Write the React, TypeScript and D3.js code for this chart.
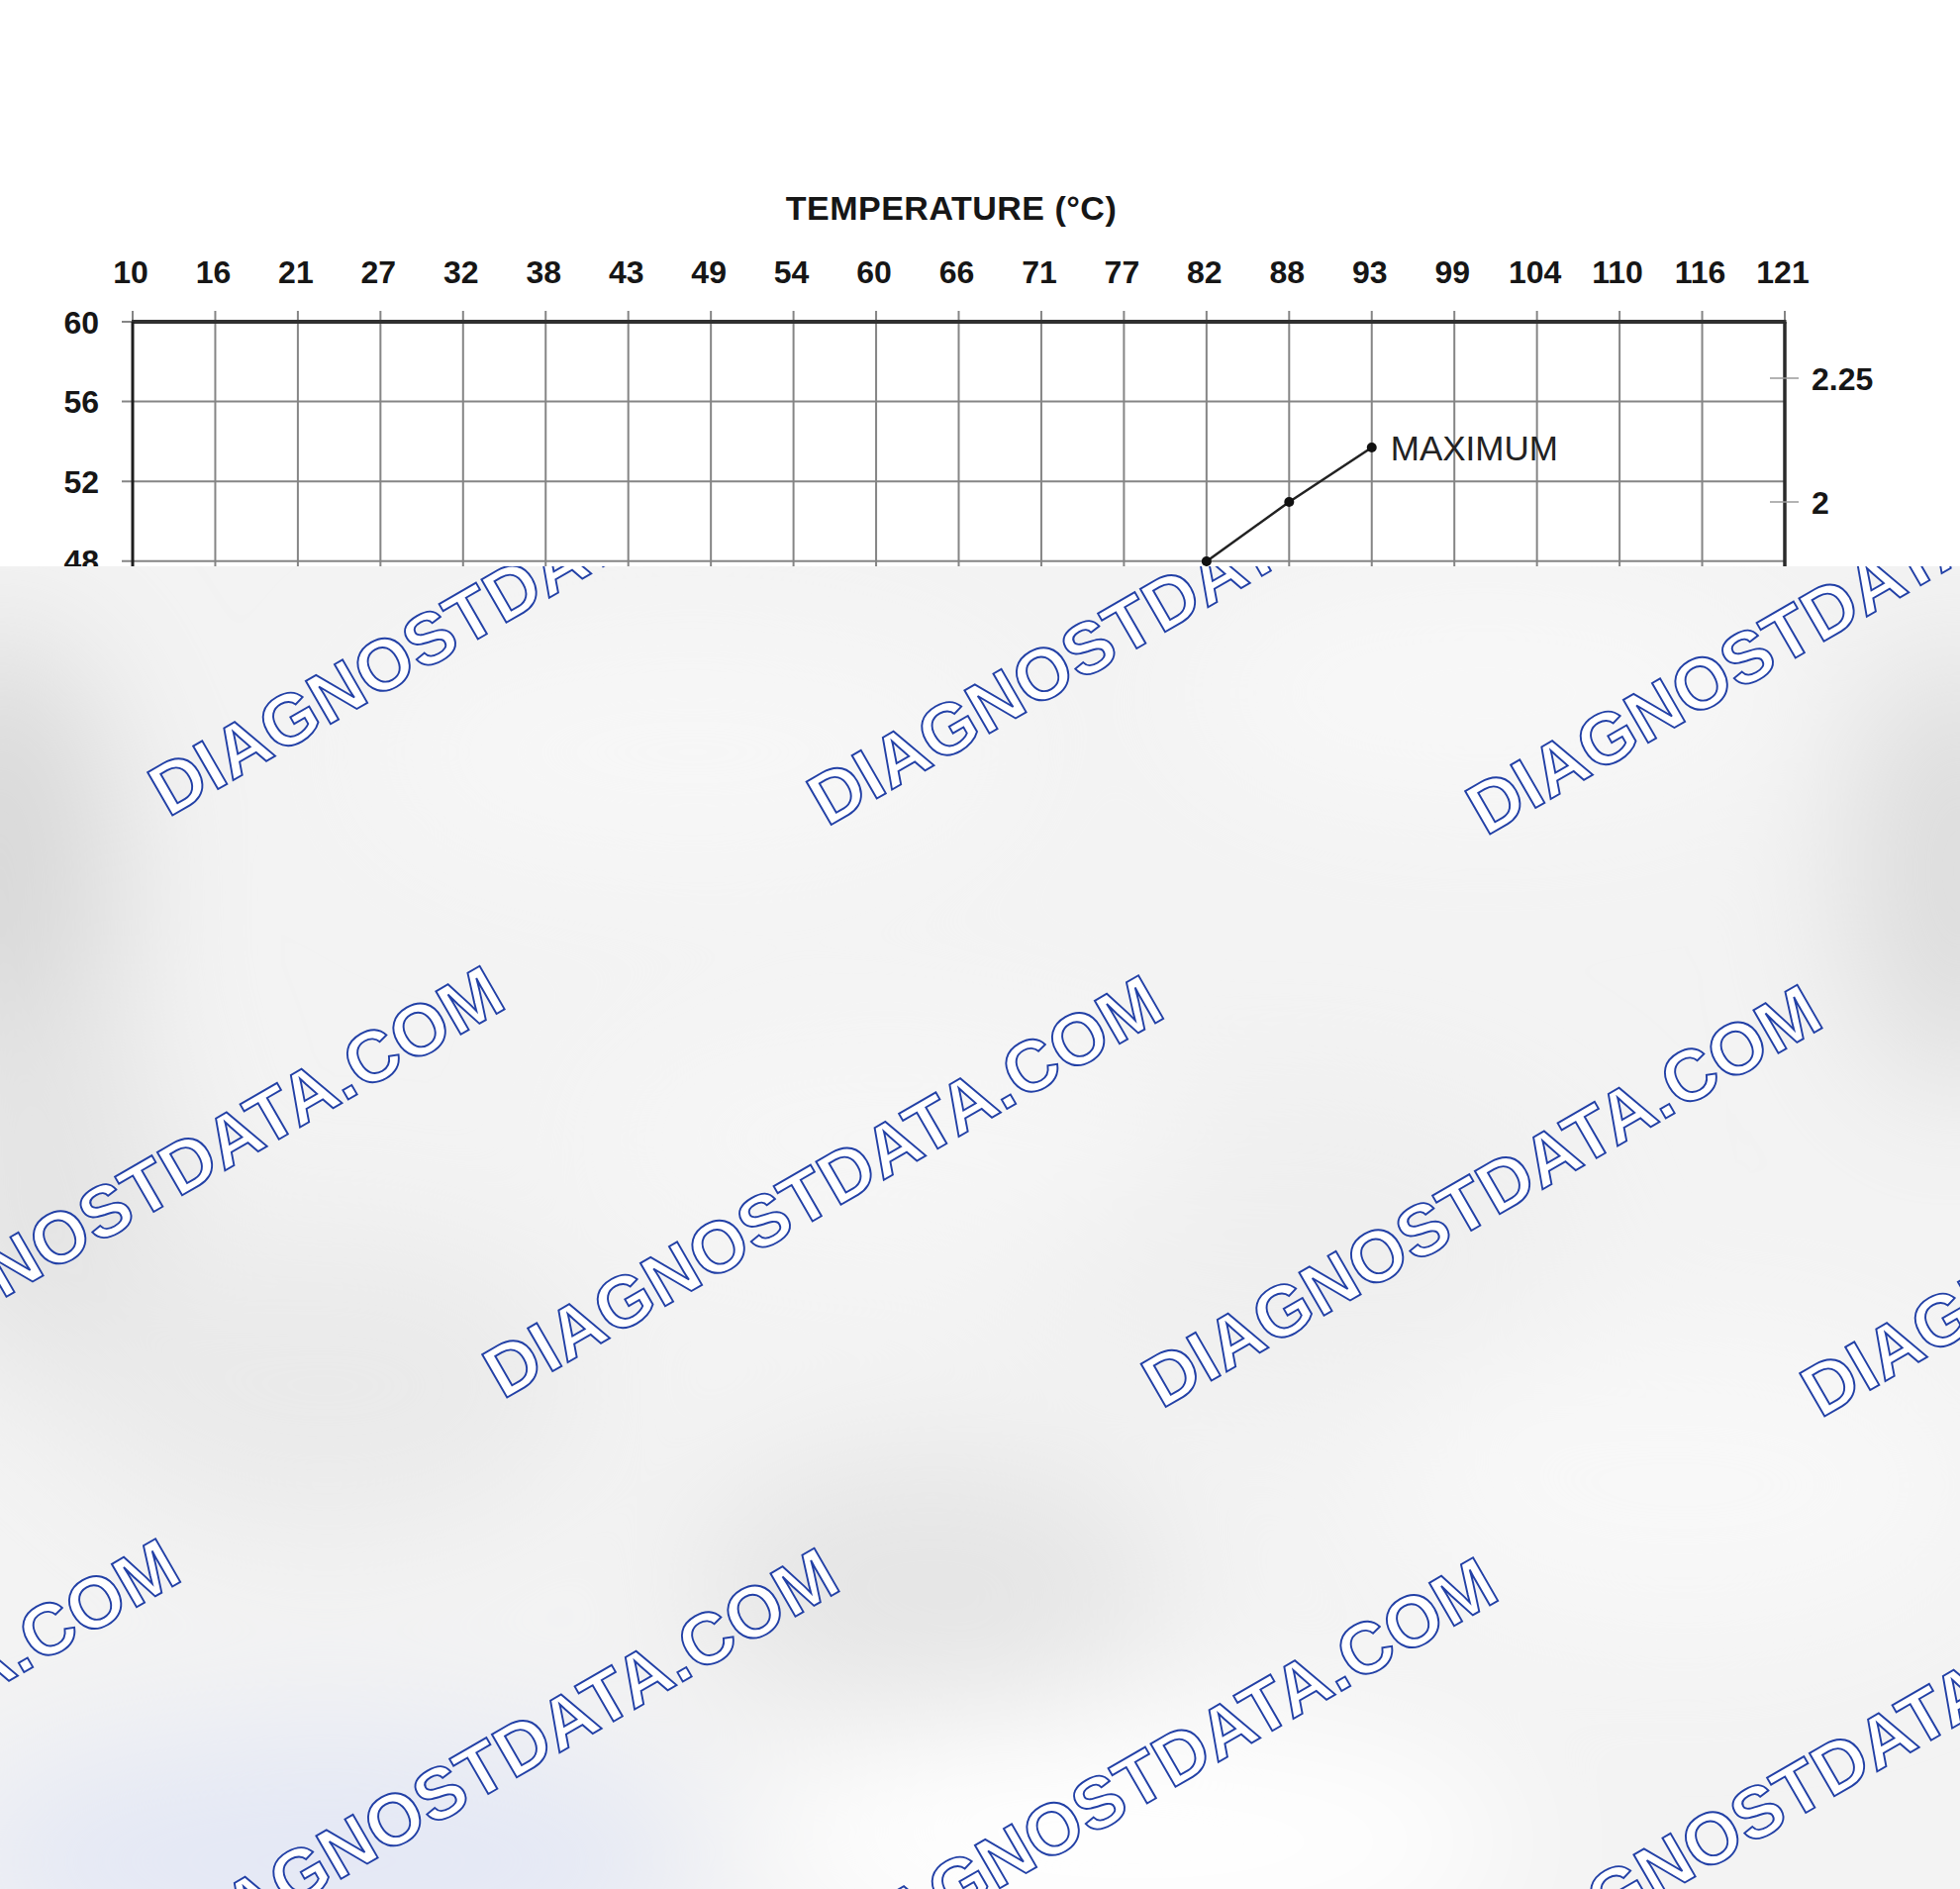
import { useEffect, useRef } from "react";
import * as d3 from "d3";

// temperature axis (top), in °C
const tempLabels = [
  "10", "16", "21", "27", "32", "38", "43", "49", "54", "60", "66",
  "71", "77", "82", "88", "93", "99", "104", "110", "116", "121",
];
// left axis ticks (continue below the cover)
const leftTicks = [60, 56, 52, 48, 44, 40, 36, 32];
// right axis ticks
const rightTicks = [2.25, 2, 1.75, 1.5];
// the MAXIMUM curve, read against the right axis
const maxTemps = ["82", "88", "93"];
const maxValues = [1.88, 2.0, 2.11];

const WIDTH = 1980;
const HEIGHT = 1908;
const WATERMARK = "DIAGNOSTDATA.COM";

export default function App() {
  const ref = useRef<SVGSVGElement>(null);

  useEffect(() => {
    if (!ref.current) return;
    const svg = d3.select(ref.current);
    svg.selectAll("*").remove();

    const font = "'Liberation Sans', Arial, Helvetica, sans-serif";
    const plotTop = 325;
    const plotLeft = 134;
    const plotRight = 1803;
    const plotBottom = 1150; // hidden under the cover
    const coverTop = 572;

    const x = d3.scalePoint<string>().domain(tempLabels).range([plotLeft, plotRight]);
    const yLeft = d3.scaleLinear().domain([48, 60]).range([566.7, plotTop]);
    const yRight = d3.scaleLinear().domain([2, 2.25]).range([507, 382]);

    svg.append("rect").attr("width", WIDTH).attr("height", HEIGHT).attr("fill", "#ffffff");

    const chart = svg.append("g");

    // title
    chart
      .append("text")
      .attr("x", 961)
      .attr("y", 222)
      .attr("text-anchor", "middle")
      .style("font-family", font)
      .style("font-size", "34px")
      .style("font-weight", "700")
      .style("letter-spacing", "0.5px")
      .style("fill", "#161616")
      .text("TEMPERATURE (°C)");

    // top tick labels
    chart
      .selectAll(".xlab")
      .data(tempLabels)
      .enter()
      .append("text")
      .attr("class", "xlab")
      .attr("x", (d) => (x(d) as number) - 2)
      .attr("y", 286)
      .attr("text-anchor", "middle")
      .style("font-family", font)
      .style("font-size", "32px")
      .style("font-weight", "700")
      .style("fill", "#161616")
      .text((d) => d);

    // vertical grid lines (stick out above the frame)
    chart
      .selectAll(".vgrid")
      .data(tempLabels)
      .enter()
      .append("line")
      .attr("x1", (d) => x(d) as number)
      .attr("x2", (d) => x(d) as number)
      .attr("y1", plotTop - 11)
      .attr("y2", plotBottom)
      .attr("stroke", "#858585")
      .attr("stroke-width", 2);

    // horizontal grid lines (stick out left of the frame)
    chart
      .selectAll(".hgrid")
      .data(leftTicks)
      .enter()
      .append("line")
      .attr("x1", plotLeft - 11)
      .attr("x2", plotRight)
      .attr("y1", (d) => yLeft(d))
      .attr("y2", (d) => yLeft(d))
      .attr("stroke", "#858585")
      .attr("stroke-width", 2);

    // left labels
    chart
      .selectAll(".ylab")
      .data(leftTicks)
      .enter()
      .append("text")
      .attr("x", 100)
      .attr("y", (d) => yLeft(d))
      .attr("dy", "0.36em")
      .attr("text-anchor", "end")
      .style("font-family", font)
      .style("font-size", "32px")
      .style("font-weight", "700")
      .style("fill", "#161616")
      .text((d) => d);

    // frame
    chart
      .append("line")
      .attr("x1", plotLeft - 1)
      .attr("x2", plotRight + 1.5)
      .attr("y1", plotTop)
      .attr("y2", plotTop)
      .attr("stroke", "#303030")
      .attr("stroke-width", 4);
    chart
      .append("line")
      .attr("x1", plotLeft)
      .attr("x2", plotLeft)
      .attr("y1", plotTop)
      .attr("y2", plotBottom)
      .attr("stroke", "#1e1e1e")
      .attr("stroke-width", 3);
    chart
      .append("line")
      .attr("x1", plotRight)
      .attr("x2", plotRight)
      .attr("y1", plotTop)
      .attr("y2", plotBottom)
      .attr("stroke", "#2a2a2a")
      .attr("stroke-width", 3.5);

    // right axis ticks and labels
    chart
      .selectAll(".rtick")
      .data(rightTicks)
      .enter()
      .append("line")
      .attr("x1", plotRight - 15)
      .attr("x2", plotRight + 14)
      .attr("y1", (d) => yRight(d))
      .attr("y2", (d) => yRight(d))
      .attr("stroke", "#9a9a9a")
      .attr("stroke-width", 1.5);
    chart
      .selectAll(".rlab")
      .data(rightTicks)
      .enter()
      .append("text")
      .attr("x", 1830)
      .attr("y", (d) => yRight(d))
      .attr("dy", "0.36em")
      .style("font-family", font)
      .style("font-size", "32px")
      .style("font-weight", "700")
      .style("fill", "#161616")
      .text((d) => String(d));

    // MAXIMUM curve
    const pts = maxTemps.map((t, i) => ({ t, v: maxValues[i] }));
    const line = d3
      .line<{ t: string; v: number }>()
      .x((d) => x(d.t) as number)
      .y((d) => yRight(d.v));
    chart
      .append("path")
      .datum(pts)
      .attr("fill", "none")
      .attr("stroke", "#222")
      .attr("stroke-width", 2.5)
      .attr("d", line);
    chart
      .selectAll(".dot")
      .data(pts)
      .enter()
      .append("circle")
      .attr("cx", (d) => x(d.t) as number)
      .attr("cy", (d) => yRight(d.v))
      .attr("r", 5)
      .attr("fill", "#111");
    const last = pts[pts.length - 1];
    chart
      .append("text")
      .attr("x", (x(last.t) as number) + 19)
      .attr("y", yRight(last.v))
      .attr("dy", "0.36em")
      .style("font-family", font)
      .style("font-size", "35px")
      .style("fill", "#222")
      .text("MAXIMUM");

    // ---- grey cover with watermark ----
    const defs = svg.append("defs");
    defs
      .append("clipPath")
      .attr("id", "cover-clip")
      .append("rect")
      .attr("x", 0)
      .attr("y", coverTop)
      .attr("width", WIDTH)
      .attr("height", HEIGHT - coverTop);
    defs
      .append("filter")
      .attr("id", "soft")
      .attr("x", "-50%")
      .attr("y", "-50%")
      .attr("width", "200%")
      .attr("height", "200%")
      .append("feGaussianBlur")
      .attr("stdDeviation", 70);

    const cover = svg.append("g").attr("clip-path", "url(#cover-clip)");
    cover
      .append("rect")
      .attr("x", 0)
      .attr("y", coverTop)
      .attr("width", WIDTH)
      .attr("height", HEIGHT - coverTop)
      .attr("fill", "#f3f3f3");

    const blobs: [number, number, number, number, string][] = [
      [0, 900, 120, 260, "#d8d8d8"],
      [40, 1200, 130, 200, "#e4e4e4"],
      [1980, 880, 110, 220, "#dcdcdc"],
      [330, 1400, 260, 150, "#eaeaea"],
      [940, 1600, 240, 130, "#e5e5e5"],
      [1300, 1250, 300, 160, "#efefef"],
      [330, 1880, 380, 130, "#e4e8f5"],
      [1150, 1860, 380, 120, "#ffffff"],
      [1700, 1500, 300, 150, "#f8f8f8"],
      [1500, 700, 300, 110, "#f8f8f8"],
      [700, 760, 320, 120, "#f7f7f7"],
      [900, 1150, 300, 120, "#f6f6f6"],
    ];
    const blobG = cover.append("g").attr("filter", "url(#soft)");
    blobs.forEach(([cx, cy, rx, ry, c]) => {
      blobG
        .append("ellipse")
        .attr("cx", cx)
        .attr("cy", cy)
        .attr("rx", rx)
        .attr("ry", ry)
        .attr("fill", c);
    });

    // watermark lattice
    const origin = [170, 826];
    const u = [665.5, 9.5];
    const v = [338, 588];
    const marks: [number, number][] = [];
    for (let j = 0; j <= 2; j++) {
      for (let i = -3; i <= 3; i++) {
        const mx = origin[0] + i * u[0] + j * v[0];
        const my = origin[1] + i * u[1] + j * v[1];
        if (mx > -800 && mx < WIDTH + 50 && my < HEIGHT + 450) marks.push([mx, my]);
      }
    }
    cover
      .selectAll(".wm")
      .data(marks)
      .enter()
      .append("text")
      .attr("transform", (d) => `translate(${d[0]},${d[1]}) rotate(-30)`)
      .style("font-family", font)
      .style("font-size", "73px")
      .style("font-weight", "700")
      .style("letter-spacing", "0.5px")
      .style("fill", "#ffffff")
      .style("stroke", "#2240a6")
      .style("stroke-width", 1.9)
      .text(WATERMARK);
  }, []);

  return (
    <svg
      ref={ref}
      width={WIDTH}
      height={HEIGHT}
      style={{ position: "absolute", left: 0, top: 0, display: "block" }}
    />
  );
}
